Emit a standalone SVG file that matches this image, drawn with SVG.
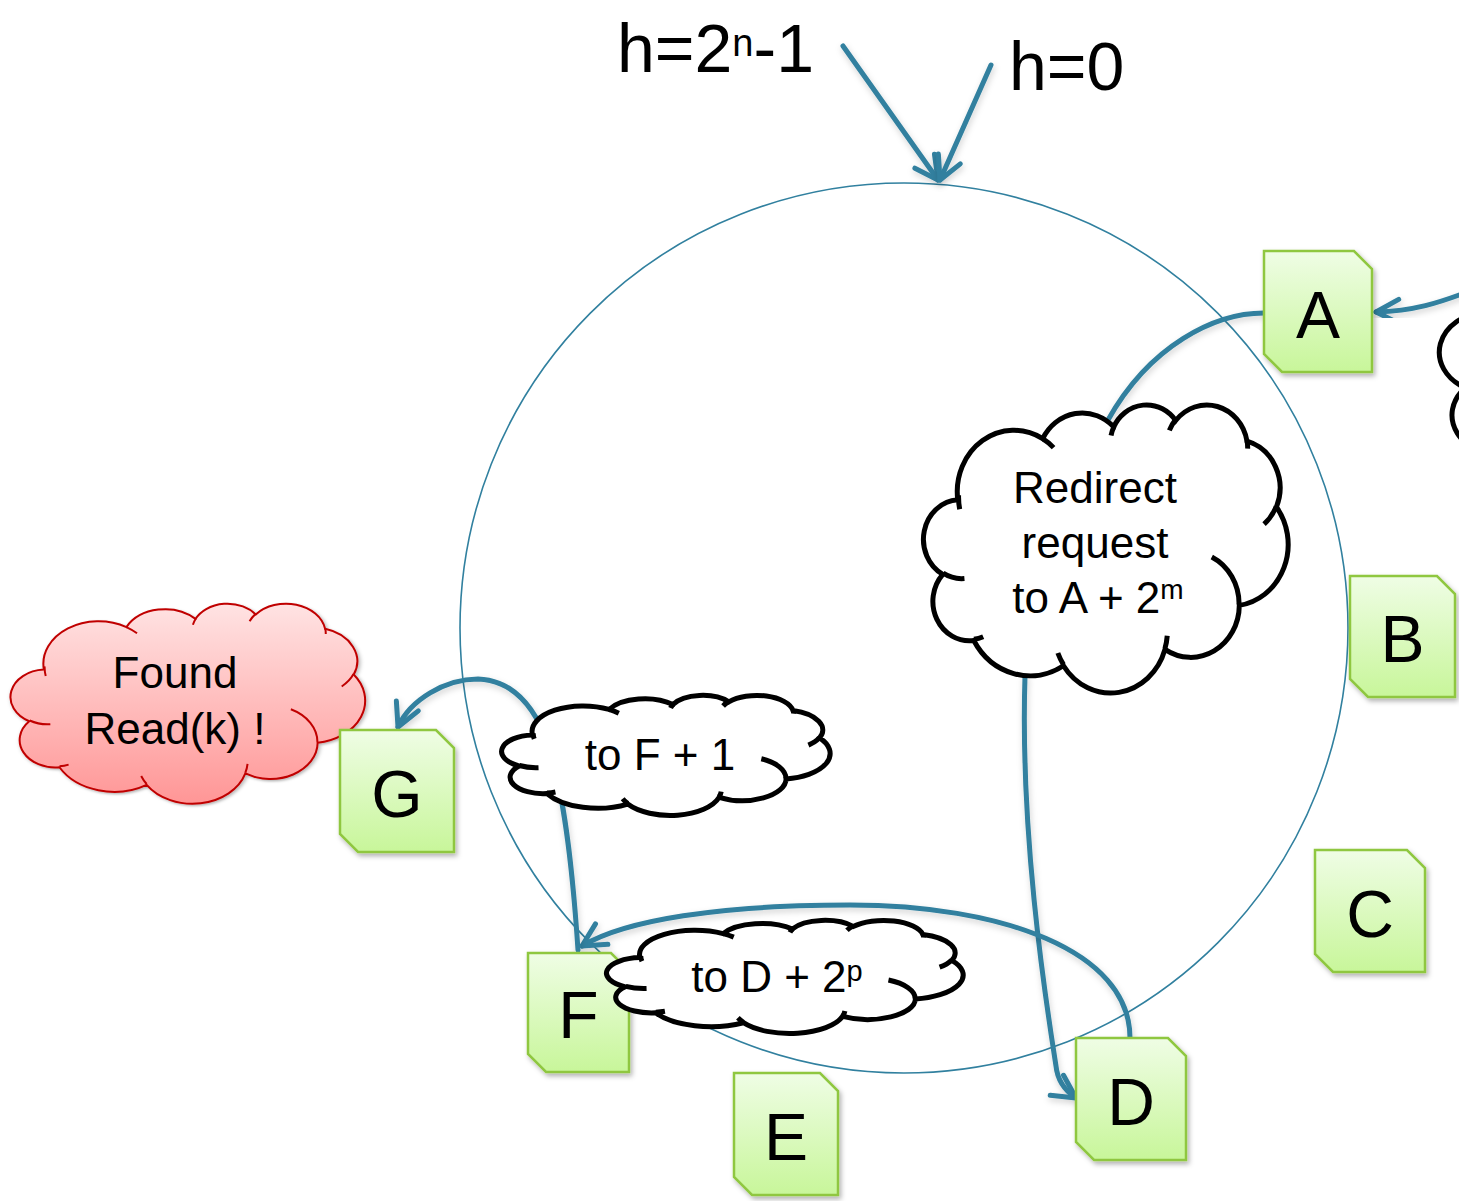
<svg xmlns="http://www.w3.org/2000/svg" xmlns:xlink="http://www.w3.org/1999/xlink" width="1459" height="1201" viewBox="0 0 1459 1201">
<defs>
<style>
.ring{fill:none;stroke:#31809f;stroke-width:1.6}
.conn{fill:none;stroke:#31809f;stroke-width:5;stroke-linecap:round;filter:url(#lsh)}
.box{fill:url(#gNode);stroke:#8fc740;stroke-width:2.5;filter:url(#sh)}
.lbl{font-family:"Liberation Sans",Arial,sans-serif;font-size:66px;fill:#000;text-anchor:middle}
.ct{font-family:"Liberation Sans",Arial,sans-serif;font-size:44px;fill:#000;text-anchor:middle}
.hl{font-family:"Liberation Sans",Arial,sans-serif;font-size:68px;fill:#000}
.cw{fill:#fff;stroke:#000;stroke-width:5}
.cwi{stroke:#000;stroke-width:5}
.cr{fill:url(#gRed);stroke:#c00000;stroke-width:2;filter:url(#sh)}
.cri{stroke:#c00000;stroke-width:2}
</style>
<linearGradient id="gNode" x1="0" y1="0" x2="0" y2="1"><stop offset="0" stop-color="#effde5"/><stop offset="1" stop-color="#c8f69a"/></linearGradient>
<linearGradient id="gRed" x1="0" y1="0" x2="0" y2="1"><stop offset="0" stop-color="#ffe3e3"/><stop offset="1" stop-color="#ff9696"/></linearGradient>
<filter id="sh" x="-20%" y="-20%" width="150%" height="150%"><feDropShadow dx="2" dy="3" stdDeviation="2.5" flood-color="#000" flood-opacity="0.3"/></filter>
<filter id="lsh" x="-20%" y="-20%" width="150%" height="150%"><feDropShadow dx="1" dy="3" stdDeviation="3" flood-color="#000" flood-opacity="0.18"/></filter>
<marker id="arr" markerUnits="userSpaceOnUse" viewBox="-30 -20 36 40" refX="0" refY="0" markerWidth="36" markerHeight="40" orient="auto">
<path d="M-23,-12 L0,0 L-23,12" fill="none" stroke="#31809f" stroke-width="5" stroke-linecap="round" stroke-linejoin="round"/>
</marker>
<path id="cloud" vector-effect="non-scaling-stroke" d="M39,143.7 A67.53,91.9 0 0 1 140.05,52.02 A53.33,72.67 0 0 1 224.56,34.32 A43.65,59.45 0 0 1 298.33,24.82 A48.57,65.95 0 0 1 383.19,55.77 A53.33,72.73 0 0 1 418.19,154.6 A67.75,92.2 0 0 1 374.04,302.02 A57.85,78.67 0 0 1 285.56,368.12 A67.52,92.15 0 0 1 164.81,392.64 A77.2,105.43 0 0 1 58.05,354.71 A43.6,59.18 0 0 1 21.13,255.5 A43.45,59.45 0 0 1 39,143.7 Z"/>
<path id="cloudIn" vector-effect="non-scaling-stroke" fill="none" d="M46.93,261.77 A43.45,59.45 0 0 1 21.6,253.8 M69.28,348.99 A43.6,59.18 0 0 1 58.2,352.81 M164.78,390.9 A67.52,92.15 0 0 1 158.1,373.49 M288.27,347.51 A67.52,92.15 0 0 1 285.6,366.6 M341.29,229.54 A57.85,78.67 0 0 1 373.81,300.9 M417.98,153.54 A53.33,72.73 0 0 1 403.5,180.3 M383.24,54.26 A48.57,65.95 0 0 1 384,66.9 M290.78,39.52 A48.57,65.95 0 0 1 298.2,23.4 M221.41,47.2 A43.65,59.45 0 0 1 225,33.3 M140,51.92 A67.53,91.9 0 0 1 153,65.4 M41.27,157.89 A67.53,91.9 0 0 1 39.97,136.8"/>
</defs>
<rect width="1459" height="1201" fill="#fff"/>

<g id="ring"><ellipse class="ring" cx="904" cy="628" rx="444" ry="445"/></g>

<g id="connectors">
<path class="conn" marker-end="url(#arr)" d="M843,46 L938,180"/>
<path class="conn" marker-end="url(#arr)" d="M991,65 L940,180"/>
<path class="conn" marker-end="url(#arr)" d="M1462,294 C1440,302 1415,311 1376,312"/>
<path class="conn" d="M1264,313 C1215,313 1150,345 1108,420"/>
<path class="conn" marker-end="url(#arr)" d="M1025,676 C1020,830 1044,990 1056,1066 Q1058,1086 1076,1098"/>
<path class="conn" marker-end="url(#arr)" d="M1130,1038 C1130,950 1000,905 850,905 C720,905 625,920 582,946"/>
<path class="conn" marker-end="url(#arr)" d="M578,950 C572,860 562,770 540,725 C525,695 505,680 478,679 C445,679 410,700 398,727"/>
</g>

<g id="cloud-found">
<use xlink:href="#cloud" href="#cloud" class="cr" transform="translate(12,603) scale(0.8171,0.463)"/>
<use xlink:href="#cloudIn" href="#cloudIn" class="cri" transform="translate(12,603) scale(0.8171,0.463)"/>
<text class="ct" x="175" y="688">Found</text>
<text class="ct" x="175" y="744">Read(k) !</text>
</g>

<g id="node-A"><path class="box" d="M1264,251 H1354 L1372,269 V372 H1282 L1264,354 Z"/><text class="lbl" x="1318" y="338">A</text></g>
<g id="node-B"><path class="box" d="M1350,576 H1437 L1455,594 V697 H1368 L1350,679 Z"/><text class="lbl" x="1402.5" y="662">B</text></g>
<g id="node-C"><path class="box" d="M1315,850 H1407 L1425,868 V972 H1333 L1315,954 Z"/><text class="lbl" x="1370" y="937">C</text></g>
<g id="node-D"><path class="box" d="M1076,1038 H1168 L1186,1056 V1160 H1094 L1076,1142 Z"/><text class="lbl" x="1131" y="1125">D</text></g>
<g id="node-E"><path class="box" d="M734,1073 H820 L838,1091 V1195 H752 L734,1177 Z"/><text class="lbl" x="786" y="1160">E</text></g>
<g id="node-F"><path class="box" d="M528,953 H611 L629,971 V1072 H546 L528,1054 Z"/><text class="lbl" x="578.5" y="1038">F</text></g>
<g id="node-G"><path class="box" d="M340,730 H436 L454,748 V852 H358 L340,834 Z"/><text class="lbl" x="397" y="817">G</text></g>

<g id="cloud-redirect">
<use xlink:href="#cloud" href="#cloud" class="cw" transform="translate(925,404) scale(0.8403,0.6667)"/>
<use xlink:href="#cloudIn" href="#cloudIn" class="cwi" transform="translate(925,404) scale(0.8403,0.6667)"/>
<text class="ct"><tspan x="1095" y="503">Redirect</tspan><tspan x="1095" y="558">request</tspan><tspan x="1098" y="613">to A + 2<tspan font-size="28" dy="-14">m</tspan></tspan></text>
</g>

<g id="cloud-f1">
<use xlink:href="#cloud" href="#cloud" class="cw" transform="translate(503,695) scale(0.7569,0.2778)"/>
<use xlink:href="#cloudIn" href="#cloudIn" class="cwi" transform="translate(503,695) scale(0.7569,0.2778)"/>
<text class="ct" x="660" y="770">to F + 1</text>
</g>

<g id="cloud-d2p">
<use xlink:href="#cloud" href="#cloud" class="cw" transform="translate(608,920) scale(0.8218,0.2616)"/>
<use xlink:href="#cloudIn" href="#cloudIn" class="cwi" transform="translate(608,920) scale(0.8218,0.2616)"/>
<text class="ct" x="777" y="992">to D + 2<tspan font-size="29" dy="-11">p</tspan></text>
</g>

<g id="cloud-edge">
<use xlink:href="#cloud" href="#cloud" class="cw" transform="translate(1441.4,215) scale(1.13,0.676)"/>
<use xlink:href="#cloudIn" href="#cloudIn" class="cwi" transform="translate(1441.4,215) scale(1.13,0.676)"/>
</g>

<g id="labels">
<text class="hl" x="617" y="72">h=2<tspan font-size="38" dy="-16">n</tspan><tspan dy="16">-1</tspan></text>
<text class="hl" x="1009" y="90">h=0</text>
</g>
</svg>
